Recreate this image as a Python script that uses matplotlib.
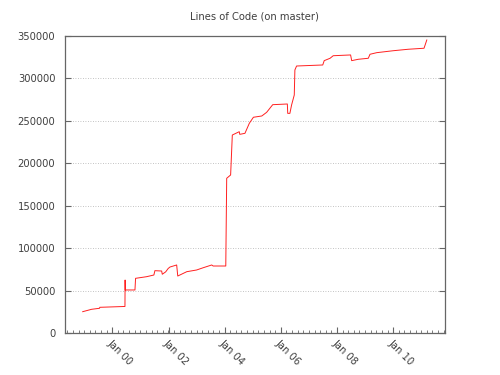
import matplotlib
matplotlib.use("Agg")
import matplotlib.pyplot as plt
import matplotlib.dates as mdates
from matplotlib import ticker
import pandas as pd

# commit dates and line counts
dates = [
    "1998-12-13", "1999-04-08", "1999-07-20", "1999-07-23", "2000-06-14",
    "2000-06-16", "2000-06-18", "2000-10-22", "2000-10-30", "2001-03-21",
    "2001-06-25", "2001-07-08", "2001-10-04", "2001-10-12", "2001-11-25",
    "2001-12-28", "2002-01-20", "2002-04-17", "2002-05-01", "2002-08-26",
    "2003-01-01", "2003-03-29", "2003-07-16", "2003-08-04", "2003-09-09",
    "2004-01-15", "2004-01-27", "2004-03-18", "2004-04-09", "2004-07-08",
    "2004-07-15", "2004-09-20", "2004-11-16", "2005-01-08", "2005-04-27",
    "2005-06-29", "2005-09-16", "2006-03-25", "2006-03-30", "2006-04-27",
    "2006-05-19", "2006-06-23", "2006-07-01", "2006-07-23", "2007-06-28",
    "2007-07-17", "2007-10-01", "2007-11-11", "2008-06-24", "2008-07-08",
    "2008-10-01", "2009-02-09", "2009-03-03", "2009-05-30", "2010-01-01",
    "2010-07-13", "2011-02-03", "2011-03-11",
]
lines = [
    25650, 28470, 29650, 30800, 31800,
    62900, 51200, 51200, 64900, 66800,
    68800, 73900, 73500, 69700, 72500,
    76500, 78200, 80600, 67600, 72700,
    74700, 77400, 80600, 79400, 79400,
    79400, 182600, 186500, 233500, 237400,
    234300, 235500, 247300, 254400, 255900,
    260200, 269200, 270000, 259000, 259000,
    268800, 280600, 310000, 314700, 315900,
    321000, 323800, 326800, 327700, 321000,
    322600, 323800, 328500, 330400, 332700,
    334400, 335600, 345300,
]

x = pd.to_datetime(dates)

fig = plt.figure(figsize=(5, 3.75), dpi=100)
ax = fig.add_axes([0.13, 0.1107, 0.759, 0.7933])

ax.plot(x, lines, color="#ff2020", lw=0.7)

ax.set_title("Lines of Code (on master)", fontsize=7.2, color="#404040", pad=12)
ax.set_xlim(pd.Timestamp("1998-04-27"), pd.Timestamp("2011-10-27"))
ax.set_ylim(0, 350000)

ax.yaxis.set_major_locator(ticker.MultipleLocator(50000))
ax.xaxis.set_major_locator(mdates.YearLocator(2))
ax.xaxis.set_major_formatter(mdates.DateFormatter("Jan %y"))
ax.xaxis.set_minor_locator(ticker.AutoMinorLocator(10))

ax.grid(axis="y", linestyle=(0, (1, 2)), color="#b0b0b0", lw=0.6)
for s in ax.spines.values():
    s.set_color("#666666")
    s.set_linewidth(0.9)

ax.tick_params(which="both", direction="in", colors="#666666", labelcolor="#404040",
               labelsize=7.2, top=False, right=True)
ax.tick_params(which="major", length=4)
ax.tick_params(which="minor", length=2)
ax.tick_params(axis="y", pad=7)
for lab in ax.get_xticklabels():
    lab.set_rotation(-45)
    lab.set_ha("left")
    lab.set_va("top")
    lab.set_rotation_mode("anchor")

fig.savefig("out.png", dpi=100)
